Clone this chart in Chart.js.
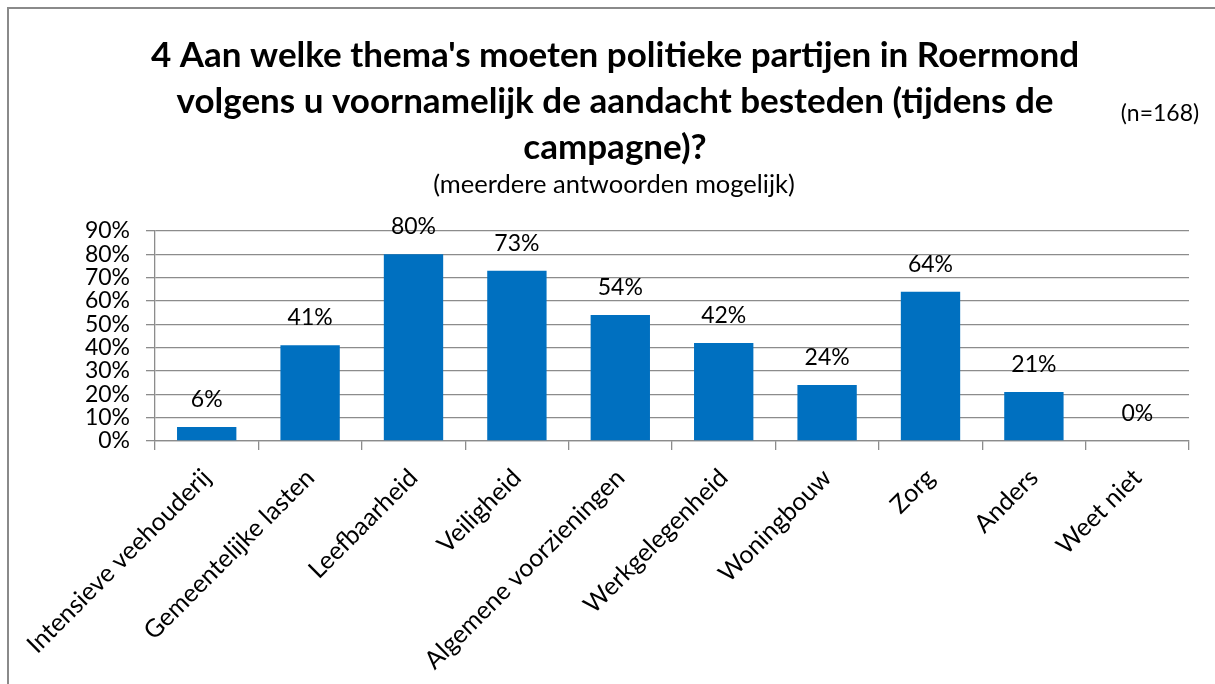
<!DOCTYPE html>
<html><head><meta charset="utf-8">
<script src="https://cdn.jsdelivr.net/npm/chart.js@4.4.1/dist/chart.umd.min.js"></script>
<style>html,body{margin:0;padding:0;background:#fff;overflow:hidden}canvas{display:block}</style>
</head><body>
<canvas id="c" width="1215" height="684" style="width:1215px;height:684px"></canvas>
<script>
const categories = ['Intensieve veehouderij','Gemeentelijke lasten','Leefbaarheid','Veiligheid','Algemene voorzieningen','Werkgelegenheid','Woningbouw','Zorg','Anders','Weet niet'];
const values = [6, 41, 80, 73, 54, 42, 24, 64, 21, 0];
const yTickMin = 0;
const yTickMax = 90;
const yTickStep = 10;
const titleLines = ["4 Aan welke thema's moeten politieke partijen in Roermond", "volgens u voornamelijk de aandacht besteden (tijdens de", "campagne)?"];
const subtitleText = '(meerdere antwoorden mogelijk)';
const sampleNote = '(n=168)';

const FONT = 'Lato, "Open Sans", sans-serif';
const GRID = '#8c8c8c';

const decorPlugin = {
  id: 'decor',
  beforeDraw(chart) {
    const ctx = chart.ctx;
    ctx.save();
    ctx.fillStyle = '#fff';
    ctx.fillRect(0, 0, chart.width, chart.height);
    ctx.strokeStyle = '#8a8a8a';
    ctx.lineWidth = 2;
    ctx.beginPath();
    ctx.moveTo(8, chart.height);
    ctx.lineTo(8, 8);
    ctx.lineTo(chart.width, 8);
    ctx.stroke();
    ctx.fillStyle = '#000';
    ctx.textAlign = 'center';
    ctx.textBaseline = 'middle';
    ctx.font = 'bold 35px ' + FONT;
    const ys = [56, 102, 148];
    titleLines.forEach((t, i) => ctx.fillText(t, 615, ys[i]));
    ctx.font = '25.5px ' + FONT;
    ctx.fillText(subtitleText, 614, 185);
    ctx.font = '23px ' + FONT;
    ctx.fillText(sampleNote, 1160, 114);
    ctx.restore();
  }
};

const valueLabelPlugin = {
  id: 'valueLabels',
  afterDatasetsDraw(chart) {
    const ctx = chart.ctx;
    const meta = chart.getDatasetMeta(0);
    ctx.save();
    ctx.fillStyle = '#000';
    ctx.font = '23px ' + FONT;
    ctx.textAlign = 'center';
    ctx.textBaseline = 'alphabetic';
    meta.data.forEach((bar, i) => {
      ctx.fillText(values[i] + '%', bar.x, bar.y - 20);
    });
    ctx.restore();
  }
};

new Chart(document.getElementById('c'), {
  type: 'bar',
  data: {
    labels: categories,
    datasets: [{
      data: values,
      backgroundColor: '#0070C0',
      borderWidth: 0,
      barPercentage: 0.574,
      categoryPercentage: 1.0
    }]
  },
  options: {
    responsive: false,
    animation: false,
    layout: { padding: { left: 10, top: 231, right: 26, bottom: 0 } },
    plugins: { legend: { display: false }, tooltip: { enabled: false }, title: { display: false } },
    scales: {
      x: {
        offset: true,
        grid: { display: true, drawOnChartArea: false, drawTicks: true, tickLength: 9, color: GRID, lineWidth: 1.3, offset: true },
        border: { display: true, color: GRID, width: 1.3 },
        ticks: { color: '#000', font: { family: FONT, size: 25 }, minRotation: 45, maxRotation: 45, autoSkip: false, padding: 13 },
        afterFit(scale) { scale.height = 684 - 441; }
      },
      y: {
        min: yTickMin, max: yTickMax,
        grid: { color: GRID, lineWidth: 1.3, drawTicks: true, tickLength: 9 },
        border: { display: true, color: GRID, width: 1.3 },
        ticks: { stepSize: yTickStep, autoSkip: false, color: '#000', font: { family: FONT, size: 23 }, padding: 16, callback: v => v + '%' },
        afterFit(scale) { scale.width = 155 - 10; }
      }
    }
  },
  plugins: [decorPlugin, valueLabelPlugin]
});
</script>
</body></html>
